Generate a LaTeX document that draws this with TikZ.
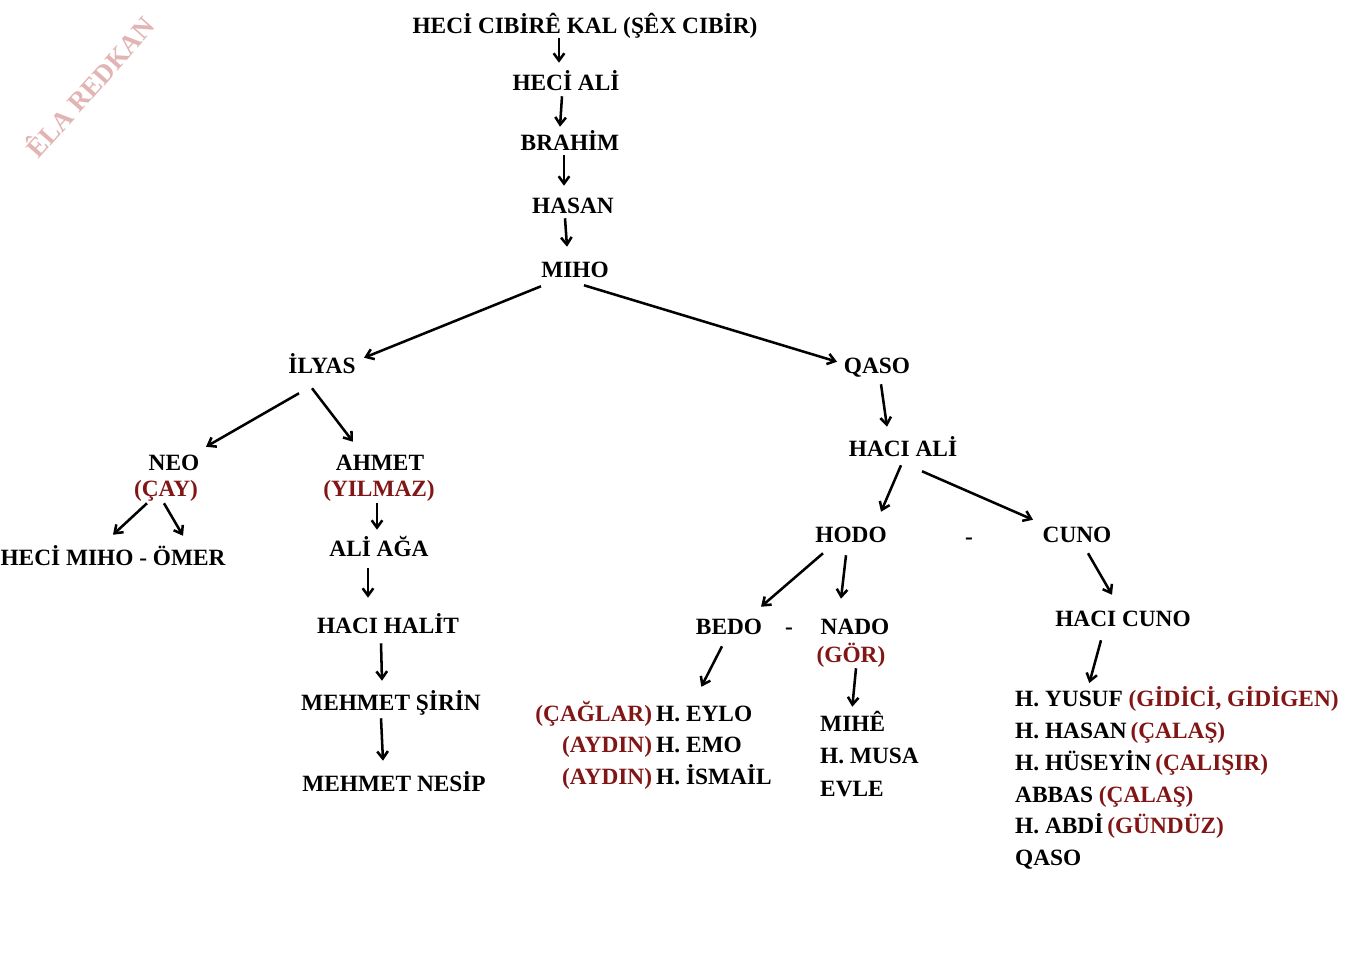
\documentclass[tikz,border=0pt]{standalone}
\usepackage{fontspec}
\setmainfont{Liberation Serif}
\usepackage{xcolor}
\usetikzlibrary{arrows.meta,calc}

\definecolor{dred}{RGB}{130,22,22}
\definecolor{wmark}{RGB}{226,180,180}
\newcommand{\surn}[1]{{\color{dred}#1}}

\tikzset{
    person/.style={font=\fontsize{17.5}{20}\selectfont\bfseries, inner sep=2pt, text height=11pt, text depth=0pt},
    sname/.style={person, text=dred},
    arr/.style={-{Straight Barb[length=5.5pt,width=8pt]}, line width=1.9pt}
}

\begin{document}
\begin{tikzpicture}[x=0.75pt, y=-0.75pt]
    % Page (pixel grid, y downwards)
    \fill[white] (0,0) rectangle (1363,965);
    \useasboundingbox (0,0) rectangle (1363,965);

    % Watermark
    \node[rotate=48.5, text=wmark, font=\fontsize{20}{24}\selectfont\bfseries] (wm) at (89,86) {ÊLA REDKAN};

    % Main line
    \node[person] (top) at (585,26) {HECİ CIBİRÊ KAL (ŞÊX CIBİR)};
    \node[person] (heciali) at (566,83) {HECİ ALİ};
    \node[person] (brahim) at (570,143) {BRAHİM};
    \node[person] (hasan) at (573,206) {HASAN};
    \node[person] (miho) at (575,270) {MIHO};

    % Ilyas branch
    \node[person] (ilyas) at (322,366) {İLYAS};
    \node[person] (neo) at (174,463) {NEO};
    \node[sname] (neosn) at (166,489) {(ÇAY)};
    \node[person] (hmo) at (113,558) {HECİ MIHO - ÖMER};
    \node[person] (ahmet) at (380,463) {AHMET};
    \node[sname] (ahmetsn) at (379,489) {(YILMAZ)};
    \node[person] (aliaga) at (379,549) {ALİ AĞA};
    \node[person] (hhalit) at (388,626) {HACI HALİT};
    \node[person] (msirin) at (391,703) {MEHMET ŞİRİN};
    \node[person] (mnesip) at (394,784) {MEHMET NESİP};

    % Qaso branch
    \node[person] (qaso) at (877,366) {QASO};
    \node[person] (haciali) at (903,449) {HACI ALİ};
    \node[person] (hodo) at (851,535) {HODO};
    \node[person] (dhc) at (969,537) {-};
    \node[person] (cuno) at (1077,535) {CUNO};
    \node[person] (bedo) at (729,627) {BEDO};
    \node[person] (dbn) at (789,627) {-};
    \node[person] (nado) at (855,627) {NADO};
    \node[sname] (gor) at (851,655) {(GÖR)};
    \node[person] (hcuno) at (1123,619) {HACI CUNO};

    % Children lists
    \foreach \s/\n [count=\i] in {(ÇAĞLAR)/H. EYLO, (AYDIN)/H. EMO, (AYDIN)/H. İSMAİL} {
        \node[sname, anchor=east] (bs\i) at (655,682.5+31.5*\i) {\s};
        \node[person, anchor=west] (bn\i) at (653.3,682.5+31.5*\i) {\n};
    }
    \foreach \n [count=\i] in {MIHÊ, H. MUSA, EVLE}
        \node[person, anchor=west] (nl\i) at (817.3,691.5+32.5*\i) {\n};
    \foreach \n [count=\i] in {{H. YUSUF \surn{(GİDİCİ, GİDİGEN)}}, {H. HASAN\,\surn{(ÇALAŞ)}},
        {H. HÜSEYİN\,\surn{(ÇALIŞIR)}}, {ABBAS \surn{(ÇALAŞ)}}, {H. ABDİ\,\surn{(GÜNDÜZ)}}, QASO}
        \node[person, anchor=west] (cl\i) at (1012.3,667.5+31.8*\i) {\n};

    % Arrows, main line
    \draw[arr] ($(top.south)+(-26,2)$) -- ($(heciali.north)+(-7,-10)$);
    \draw[arr] ($(heciali.south)+(-4,3)$) -- ($(brahim.north)+(-10,-6)$);
    \draw[arr] ($(brahim.south)+(-6,2)$) -- ($(hasan.north)+(-9,-10)$);
    \draw[arr] ($(hasan.south)+(-8,2)$) -- ($(miho.north)+(-8,-13)$);
    \draw[arr] ($(miho.south)+(-34,6)$) -- ($(ilyas.north)+(42,2)$);
    \draw[arr] ($(miho.south)+(9,5)$) -- ($(qaso.north)+(-40,6)$);

    % Arrows, Ilyas branch
    \draw[arr] ($(ilyas.south)+(-23,17)$) -- ($(neo.north)+(32,-6)$);
    \draw[arr] ($(ilyas.south)+(-10,12)$) -- ($(ahmet.north)+(-27,-11)$);
    \draw[arr] ($(neosn.south)+(-19,4)$) -- ($(hmo.north)+(0,-13)$);
    \draw[arr] ($(neosn.south)+(-2,4)$) -- ($(hmo.north)+(70,-12)$);
    \draw[arr] ($(ahmetsn.south)+(-2,4)$) -- ($(aliaga.north)+(-2,-9)$);
    \draw[arr] ($(aliaga.south)+(-11,9)$) -- ($(hhalit.north)+(-20,-18)$);
    \draw[arr] ($(hhalit.south)+(-7,7)$) -- ($(msirin.north)+(-9,-12)$);
    \draw[arr] ($(msirin.south)+(-10,5)$) -- ($(mnesip.north)+(-11,-13)$);

    % Arrows, Qaso branch
    \draw[arr] ($(qaso.south)+(4,8)$) -- ($(haciali.north)+(-16,-12)$);
    \draw[arr] ($(haciali.south)+(-2,6)$) -- ($(hodo.north)+(30,-13)$);
    \draw[arr] ($(haciali.south)+(19,12)$) -- ($(cuno.north)+(-44,-5)$);
    \draw[arr] ($(hodo.south)+(-28,8)$) -- ($(bedo.north)+(32,-10)$);
    \draw[arr] ($(hodo.south)+(-5,10)$) -- ($(nado.north)+(-14,-18)$);
    \draw[arr] ($(cuno.south)+(11,8)$) -- ($(hcuno.north)+(-11,-14)$);
    \draw[arr] ($(bedo.south)+(-7,9)$) -- ($(bn1.north west)+(48,-17)$);
    \draw[arr] ($(gor.south)+(5,3)$) -- ($(nl1.north west)+(35,-7)$);
    \draw[arr] ($(hcuno.south)+(-22,11)$) -- ($(cl1.north west)+(77,-6)$);
\end{tikzpicture}
\end{document}
